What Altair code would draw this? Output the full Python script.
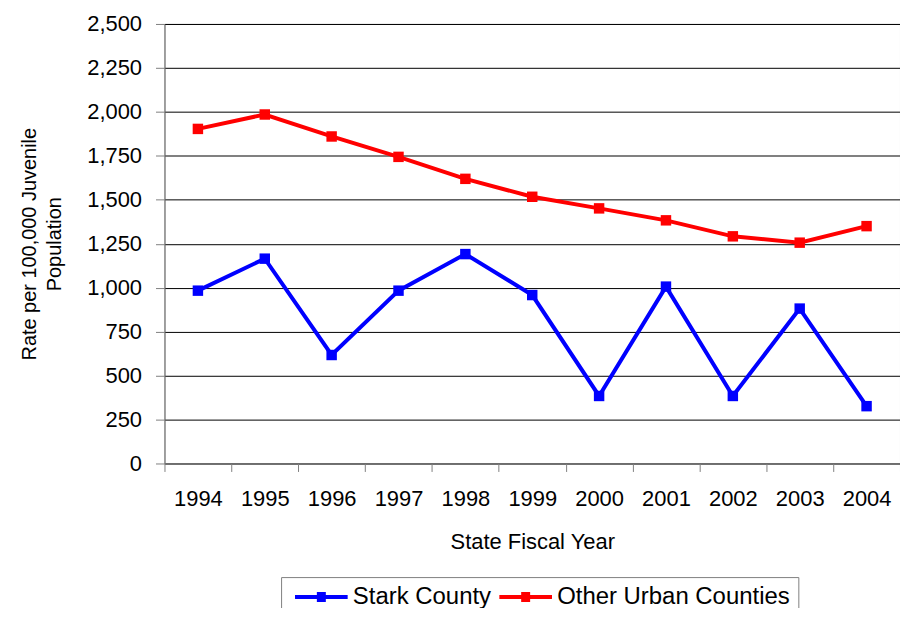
import altair as alt
import pandas as pd

years = ["1994", "1995", "1996", "1997", "1998", "1999", "2000", "2001", "2002", "2003", "2004"]
stark = [983, 1165, 617, 983, 1191, 958, 384, 1006, 384, 881, 326]
other = [1903, 1985, 1860, 1744, 1619, 1517, 1451, 1383, 1292, 1256, 1350]
series = ["Stark County", "Other Urban Counties"]
colors = ["#0000FF", "#FF0000"]
y_ticks = [0, 250, 500, 750, 1000, 1250, 1500, 1750, 2000, 2250, 2500]

rows = []
for name, vals in zip(series, [stark, other]):
    for yr, v in zip(years, vals):
        rows.append({"Year": yr, "Rate": v, "Series": name})
df = pd.DataFrame(rows)

FONT = "Liberation Sans"

# legend glyph: a line with a (striped, so it looks filled) square in its middle; units of 6px
legend_path = "M-1,0H7.8M2.65,-0.5H4.15M2.65,0.5H4.15M2.65,-0.25H4.15M2.65,0.25H4.15"

x_enc = alt.X(
    "Year:O",
    bandPosition=0.5,
    scale=alt.Scale(type="band", paddingInner=0, paddingOuter=0),
    sort=years,
    axis=alt.Axis(
        title="State Fiscal Year",
        labelAngle=0,
        tickBand="extent",
        tickSize=8,
        tickColor="#808080",
        domainColor="#808080",
        labelFontSize=22,
        labelPadding=17,
        titleFontSize=22,
        titleFontWeight="normal",
        titlePadding=22,
        grid=False,
    ),
)
y_enc = alt.Y(
    "Rate:Q",
    scale=alt.Scale(domain=[0, 2500], nice=False),
    axis=alt.Axis(
        title=["Rate per 100,000 Juvenile", "Population"],
        values=y_ticks,
        format=",d",
        tickSize=9,
        tickColor="#808080",
        domainColor="#808080",
        gridColor="#000000",
        gridWidth=1,
        labelFontSize=22,
        labelPadding=14,
        titleFontSize=20,
        titleFontWeight="normal",
        titlePadding=22,
        titleLineHeight=25,
    ),
)
color_enc = alt.Color(
    "Series:N",
    scale=alt.Scale(domain=series, range=colors),
    sort=series,
    legend=alt.Legend(
        title=None,
        orient="none",
        direction="horizontal",
        legendX=117,
        legendY=555,
        symbolType=legend_path,
        symbolSize=144,
        symbolStrokeWidth=4,
        symbolOpacity=1,
        labelFontSize=24,
        labelFont=FONT,
        labelOffset=40,
        labelLimit=400,
        columnPadding=0,
        padding=8,
        strokeColor="#808080",
        fillColor="#FFFFFF",
    ),
)
fill_enc = alt.Fill(
    "Series:N",
    scale=alt.Scale(domain=series, range=colors),
    legend=None,
)

lines = alt.Chart(df).mark_line(strokeWidth=4).encode(x=x_enc, y=y_enc, color=color_enc)
points = alt.Chart(df).mark_square(size=110, opacity=1, strokeWidth=0).encode(
    x=x_enc, y=y_enc, fill=fill_enc
)

chart = (
    alt.layer(lines, points)
    .properties(
        width=738,
        height=441,
        autosize=alt.AutoSizeParams(type="none"),
        padding={"left": 157, "top": 15, "right": 0, "bottom": 144},
    )
    .configure_view(stroke="#808080", strokeWidth=1)
    .configure_axis(labelFont=FONT, titleFont=FONT, labelColor="#000000", titleColor="#000000")
    .configure_legend(labelColor="#000000")
)

chart.save("out.html", embed_options={"renderer": "svg", "actions": False})
